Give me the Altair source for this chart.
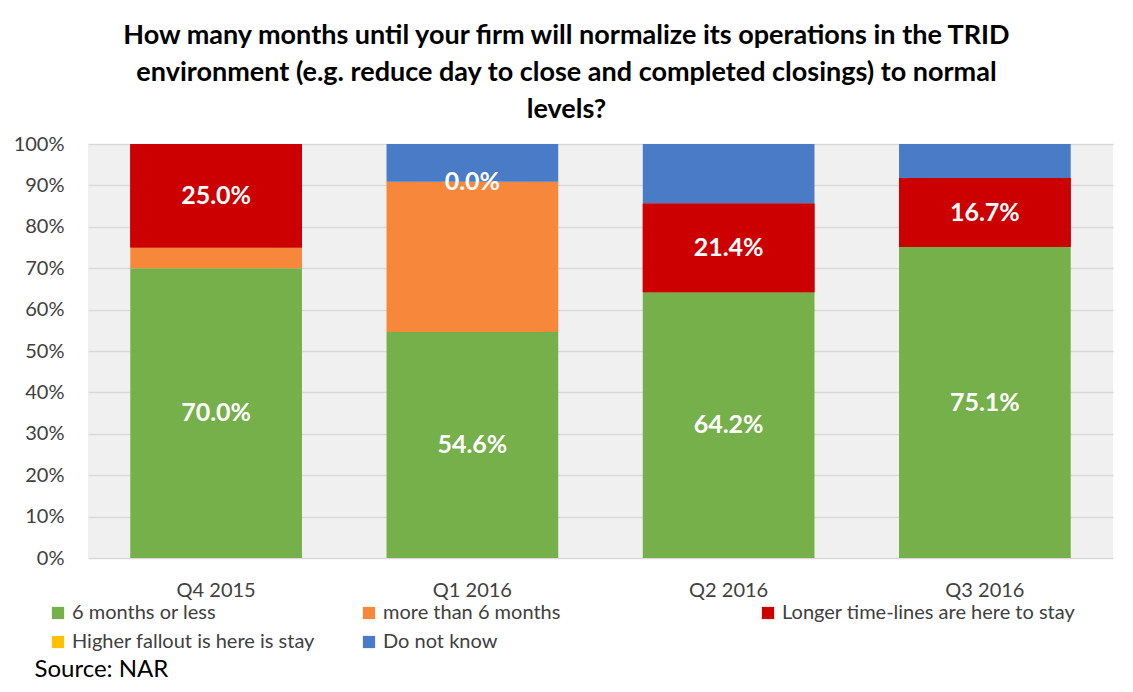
import altair as alt
import pandas as pd

quarters = ["Q4 2015", "Q1 2016", "Q2 2016", "Q3 2016"]
series = ["6 months or less", "more than 6 months", "Longer time-lines are here to stay",
          "Higher fallout is here is stay", "Do not know"]
colors = ["#75b04a", "#f7873a", "#cc0000", "#ffc000", "#4a7bc6"]
six_or_less = [70.0, 54.6, 64.2, 75.1]
more_than_six = [5.0, 36.3, 0.0, 0.0]
longer_timelines = [25.0, 0.0, 21.4, 16.7]
higher_fallout = [0.0, 0.0, 0.0, 0.0]
do_not_know = [0.0, 9.1, 14.4, 8.2]
labelled = ["6 months or less", "Longer time-lines are here to stay"]

vals = [six_or_less, more_than_six, longer_timelines, higher_fallout, do_not_know]
rows = []
for si, (s, v) in enumerate(zip(series, vals)):
    for q, x in zip(quarters, v):
        rows.append({"quarter": q, "series": s, "order": si, "value": x / 100.0,
                     "show": s in labelled})
df = pd.DataFrame(rows)

FONT = "Lato"
LONGER = series[2]
legend_common = dict(title=None, orient="none", direction="horizontal",
                     symbolType="square", symbolSize=150, symbolStrokeWidth=0,
                     symbolOpacity=1, labelFontSize=20, labelFont=FONT,
                     labelColor="#404040", labelLimit=600, rowPadding=9)

base = alt.Chart(df).transform_stack(
    stack="value", groupby=["quarter"], sort=[alt.SortField("order", "ascending")],
    as_=["y0", "y1"]
).transform_calculate(mid="(datum.y0 + datum.y1) / 2")

xenc = alt.X("quarter:N", sort=quarters,
             scale=alt.Scale(paddingInner=0.33, paddingOuter=0.165),
             axis=alt.Axis(title="Source: NAR", labelAngle=0, labelFontSize=20,
                           labelColor="#404040", labelFont=FONT, labelPadding=22,
                           ticks=False, domain=False,
                           titleFont=FONT, titleFontSize=24, titleFontWeight="normal",
                           titleColor="#000000", titleAnchor="start", titleAlign="left",
                           titleX=-54, titleY=118, titleBaseline="alphabetic"))
yenc = alt.Y("y0:Q", scale=alt.Scale(domain=[0, 1]),
             axis=alt.Axis(format=".0%", values=[i / 10 for i in range(11)], title=None,
                           labelFontSize=20, labelColor="#404040", labelFont=FONT,
                           ticks=False, domain=False, gridColor="#d9d9d9", gridWidth=1.5,
                           labelPadding=24))

bars = base.mark_bar().encode(
    x=xenc,
    y=yenc,
    y2="y1:Q",
    color=alt.Color("series:N", sort=series,
                    scale=alt.Scale(domain=series, range=colors),
                    legend=alt.Legend(values=[s for s in series if s != LONGER],
                                      legendX=-40, legendY=459, columns=2,
                                      columnPadding=44, **legend_common)),
    order=alt.Order("order:Q"),
)

# the red series drawn again with its own fill scale, giving it its own legend entry
longer_bars = base.transform_filter(alt.datum.series == LONGER).mark_bar().encode(
    x=alt.X("quarter:N", sort=quarters),
    y=alt.Y("y0:Q"),
    y2="y1:Q",
    fill=alt.Fill("series:N", scale=alt.Scale(domain=[LONGER], range=[colors[2]]),
                  legend=alt.Legend(legendX=670, legendY=459, **legend_common)),
)

labels = base.transform_filter("datum.show").mark_text(
    color="white", fontSize=25, fontWeight="bold", font=FONT, baseline="middle"
).encode(
    x=alt.X("quarter:N", sort=quarters),
    y=alt.Y("mid:Q"),
    text=alt.Text("value:Q", format=".1%"),
)

chart = alt.layer(bars, longer_bars, labels).properties(
    width=1025, height=414,
    padding={"left": 80, "top": 136, "right": 12, "bottom": 126},
    autosize=alt.AutoSizeParams(type="none"),
    background="white",
    title=alt.Title(
        ["How many months until your firm will normalize its operations in the TRID",
         "environment (e.g. reduce day to close and completed closings) to normal",
         "levels?"],
        font=FONT, fontSize=27, fontWeight="bold", color="#000000",
        anchor="middle", dx=-34, lineHeight=37, offset=10),
).configure_view(fill="#f0f0f0", stroke=None)

chart.save("out.html", embed_options={"renderer": "svg", "actions": False})
